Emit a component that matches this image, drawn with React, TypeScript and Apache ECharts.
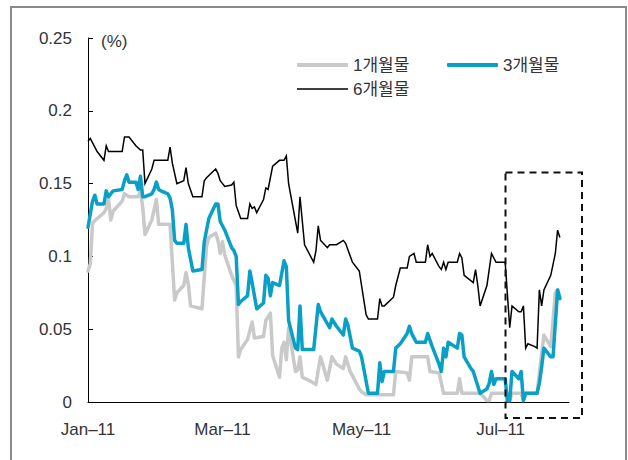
import React, { useEffect, useRef } from 'react';
import * as echarts from 'echarts';

// ---- data (dates in 2011, values in %) ----
const seriesNames = ['1개월물', '3개월물', '6개월물'];
const tickDates = ['1/3', '3/3', '5/3', '7/3'];
const tickLabels = ['Jan–11', 'Mar–11', 'May–11', 'Jul–11'];
const axisStartDate = '1/3';
const axisEndDate = '8/2';

const m1: [string, number][] = [
  ['1/3', 0.090], ['1/4', 0.095], ['1/5', 0.123], ['1/7', 0.126], ['1/10', 0.130], ['1/11', 0.133],
  ['1/12', 0.139], ['1/13', 0.125], ['1/14', 0.131], ['1/18', 0.138], ['1/19', 0.143], ['1/21', 0.141],
  ['1/25', 0.141], ['1/26', 0.145], ['1/27', 0.134], ['1/28', 0.115], ['1/31', 0.125], ['2/2', 0.139],
  ['2/3', 0.122], ['2/8', 0.122], ['2/10', 0.070], ['2/11', 0.075], ['2/14', 0.080], ['2/15', 0.089],
  ['2/16', 0.081], ['2/17', 0.066], ['2/22', 0.064], ['2/23', 0.086], ['2/24', 0.107], ['2/25', 0.113],
  ['2/28', 0.116], ['3/1', 0.111], ['3/2', 0.102], ['3/3', 0.110], ['3/4', 0.101], ['3/7', 0.087],
  ['3/9', 0.080], ['3/10', 0.031], ['3/11', 0.036], ['3/14', 0.043], ['3/16', 0.055], ['3/17', 0.044],
  ['3/21', 0.045], ['3/22', 0.056], ['3/24', 0.061], ['3/25', 0.032], ['3/28', 0.017], ['3/29', 0.037],
  ['3/30', 0.041], ['3/31', 0.029], ['4/1', 0.051], ['4/4', 0.021], ['4/5', 0.022], ['4/6', 0.031],
  ['4/7', 0.017], ['4/11', 0.014], ['4/13', 0.012], ['4/14', 0.022], ['4/15', 0.031], ['4/18', 0.015],
  ['4/20', 0.031], ['4/22', 0.026], ['4/25', 0.023], ['4/26', 0.031], ['4/28', 0.021], ['5/2', 0.009],
  ['5/3', 0.007], ['5/5', 0.005], ['5/17', 0.005], ['5/18', 0.021], ['5/23', 0.020], ['5/24', 0.015],
  ['5/25', 0.031], ['6/1', 0.031], ['6/2', 0.021], ['6/6', 0.020], ['6/8', 0.006], ['6/14', 0.006],
  ['6/15', 0.016], ['6/16', 0.006], ['6/24', 0.006], ['6/27', 0.001], ['6/28', 0.001], ['6/29', 0.006],
  ['7/5', 0.006], ['7/6', 0.001], ['7/7', 0.001], ['7/8', 0.006], ['7/12', 0.006], ['7/13', 0.001],
  ['7/14', 0.006], ['7/19', 0.006], ['7/20', 0.020], ['7/21', 0.033], ['7/22', 0.046], ['7/25', 0.038],
  ['7/27', 0.075], ['7/28', 0.077], ['7/29', 0.072],
];

const m3: [string, number][] = [
  ['1/3', 0.120], ['1/5', 0.138], ['1/6', 0.142], ['1/7', 0.136], ['1/10', 0.136], ['1/11', 0.145],
  ['1/12', 0.141], ['1/14', 0.145], ['1/18', 0.146], ['1/19', 0.152], ['1/20', 0.156], ['1/21', 0.151],
  ['1/24', 0.151], ['1/25', 0.146], ['1/26', 0.155], ['1/27', 0.141], ['1/28', 0.141], ['1/31', 0.143],
  ['2/1', 0.146], ['2/2', 0.151], ['2/3', 0.146], ['2/4', 0.145], ['2/7', 0.143], ['2/8', 0.140],
  ['2/9', 0.132], ['2/10', 0.111], ['2/11', 0.109], ['2/14', 0.109], ['2/15', 0.122], ['2/16', 0.106],
  ['2/18', 0.090], ['2/22', 0.091], ['2/23', 0.110], ['2/24', 0.118], ['2/25', 0.126], ['2/28', 0.136],
  ['3/1', 0.136], ['3/2', 0.124], ['3/4', 0.118], ['3/7', 0.106], ['3/8', 0.104], ['3/9', 0.100],
  ['3/10', 0.067], ['3/11', 0.069], ['3/14', 0.073], ['3/15', 0.090], ['3/16', 0.082], ['3/18', 0.064],
  ['3/21', 0.068], ['3/22', 0.087], ['3/23', 0.085], ['3/24', 0.073], ['3/25', 0.082], ['3/28', 0.080],
  ['3/30', 0.097], ['3/31', 0.093], ['4/1', 0.056], ['4/4', 0.037], ['4/5', 0.036], ['4/6', 0.066],
  ['4/7', 0.036], ['4/12', 0.036], ['4/14', 0.067], ['4/15', 0.062], ['4/19', 0.051], ['4/20', 0.057],
  ['4/22', 0.052], ['4/25', 0.046], ['4/26', 0.057], ['4/27', 0.053], ['4/29', 0.037], ['5/2', 0.035],
  ['5/3', 0.031], ['5/6', 0.006], ['5/10', 0.006], ['5/11', 0.027], ['5/12', 0.014], ['5/13', 0.021],
  ['5/17', 0.021], ['5/18', 0.037], ['5/20', 0.040], ['5/23', 0.047], ['5/24', 0.052], ['5/25', 0.047],
  ['5/27', 0.041], ['5/31', 0.041], ['6/1', 0.047], ['6/3', 0.038], ['6/6', 0.026], ['6/7', 0.021],
  ['6/8', 0.037], ['6/9', 0.031], ['6/10', 0.041], ['6/14', 0.037], ['6/15', 0.047], ['6/16', 0.046],
  ['6/17', 0.031], ['6/20', 0.023], ['6/21', 0.021], ['6/24', 0.006], ['6/27', 0.009], ['6/28', 0.013],
  ['6/29', 0.021], ['6/30', 0.012], ['7/1', 0.016], ['7/5', 0.016], ['7/6', 0.001], ['7/7', 0.001],
  ['7/8', 0.021], ['7/11', 0.016], ['7/12', 0.021], ['7/13', 0.001], ['7/14', 0.006], ['7/19', 0.006],
  ['7/20', 0.013], ['7/21', 0.024], ['7/22', 0.037], ['7/25', 0.031], ['7/26', 0.031], ['7/28', 0.077],
  ['7/29', 0.071],
];

const m6: [string, number][] = [
  ['1/3', 0.179], ['1/4', 0.181], ['1/7', 0.172], ['1/10', 0.166], ['1/11', 0.176], ['1/12', 0.172],
  ['1/18', 0.172], ['1/19', 0.182], ['1/21', 0.182], ['1/24', 0.176], ['1/26', 0.173], ['1/27', 0.173],
  ['1/28', 0.150], ['1/31', 0.160], ['2/1', 0.166], ['2/7', 0.166], ['2/8', 0.175], ['2/9', 0.164],
  ['2/11', 0.150], ['2/14', 0.152], ['2/15', 0.161], ['2/16', 0.150], ['2/18', 0.141], ['2/22', 0.141],
  ['2/23', 0.152], ['2/24', 0.154], ['2/28', 0.160], ['3/1', 0.157], ['3/2', 0.152], ['3/4', 0.148],
  ['3/7', 0.149], ['3/8', 0.151], ['3/9', 0.135], ['3/11', 0.126], ['3/14', 0.126], ['3/15', 0.136],
  ['3/16', 0.133], ['3/17', 0.134], ['3/18', 0.130], ['3/21', 0.139], ['3/22', 0.147], ['3/23', 0.146],
  ['3/25', 0.162], ['3/28', 0.166], ['3/30', 0.166], ['3/31', 0.169], ['4/1', 0.150], ['4/5', 0.116],
  ['4/6', 0.141], ['4/8', 0.108], ['4/12', 0.096], ['4/13', 0.104], ['4/14', 0.121], ['4/15', 0.111],
  ['4/18', 0.106], ['4/19', 0.108], ['4/22', 0.108], ['4/25', 0.111], ['4/26', 0.109], ['4/29', 0.096],
  ['5/2', 0.090], ['5/5', 0.060], ['5/6', 0.057], ['5/10', 0.057], ['5/11', 0.071], ['5/12', 0.066],
  ['5/13', 0.066], ['5/17', 0.072], ['5/18', 0.080], ['5/20', 0.092], ['5/23', 0.092], ['5/24', 0.100],
  ['5/26', 0.102], ['5/27', 0.096], ['5/31', 0.096], ['6/1', 0.108], ['6/2', 0.100], ['6/3', 0.102],
  ['6/6', 0.093], ['6/7', 0.091], ['6/8', 0.096], ['6/9', 0.091], ['6/10', 0.096], ['6/14', 0.096],
  ['6/15', 0.102], ['6/16', 0.099], ['6/17', 0.087], ['6/21', 0.082], ['6/22', 0.091], ['6/23', 0.080],
  ['6/24', 0.066], ['6/27', 0.080], ['6/29', 0.102], ['7/1', 0.096], ['7/5', 0.096], ['7/7', 0.051],
  ['7/8', 0.066], ['7/11', 0.062], ['7/12', 0.062], ['7/13', 0.066], ['7/14', 0.037], ['7/15', 0.040],
  ['7/18', 0.038], ['7/19', 0.037], ['7/20', 0.077], ['7/21', 0.066], ['7/22', 0.077], ['7/25', 0.087],
  ['7/27', 0.102], ['7/28', 0.118], ['7/29', 0.113],
];

const FONT = '"Liberation Sans", Arial, "Noto Sans CJK KR", sans-serif';
const COLORS = ['#c9c9c9', '#0aa0c6', '#000000'];

const dayOf = (md: string): number => {
  const [m, d] = md.split('/').map(Number);
  const [m0, d0] = axisStartDate.split('/').map(Number);
  return Math.round((Date.UTC(2011, m - 1, d) - Date.UTC(2011, m0 - 1, d0)) / 86400000);
};

const toPoints = (arr: [string, number][]) => arr.map(([d, v]) => [dayOf(d), v]);

export default function App() {
  const ref = useRef<HTMLDivElement>(null);

  useEffect(() => {
    if (!ref.current) return;
    const chart = echarts.init(ref.current, null, { renderer: 'svg' });
    const tickDays = tickDates.map(dayOf);

    const legendCommon = {
      itemWidth: 51,
      padding: 0,
      itemGap: 0,
      selectedMode: false,
      textStyle: { fontSize: 17, color: '#333', fontFamily: FONT },
    };

    chart.setOption({
      animation: false,
      backgroundColor: '#fff',
      grid: { left: 88, right: 59, top: 38, bottom: 58, containLabel: false },
      legend: [
        {
          ...legendCommon, data: [seriesNames[0]], left: 297, top: 56.5,
          icon: 'roundRect', itemHeight: 4, itemStyle: { color: COLORS[0] },
        },
        {
          ...legendCommon, data: [seriesNames[1]], left: 447, top: 56.5,
          icon: 'roundRect', itemHeight: 4, itemStyle: { color: COLORS[1] },
        },
        {
          ...legendCommon, data: [seriesNames[2]], left: 297, top: 80.5,
          icon: 'rect', itemHeight: 1.6, itemStyle: { color: COLORS[2] },
        },
      ],
      xAxis: {
        type: 'value',
        min: dayOf(axisStartDate),
        max: dayOf(axisEndDate),
        axisLine: { show: true, lineStyle: { color: '#000', width: 1 } },
        axisTick: { show: false },
        splitLine: { show: false },
        axisLabel: {
          customValues: tickDays,
          margin: 19,
          fontSize: 17,
          color: '#333',
          fontFamily: FONT,
          formatter: (v: number) => {
            const i = tickDays.indexOf(Math.round(v));
            return i >= 0 ? tickLabels[i] : '';
          },
        },
      },
      yAxis: {
        type: 'value',
        min: 0,
        max: 0.25,
        interval: 0.05,
        axisLine: { show: true, lineStyle: { color: '#000', width: 1 } },
        axisTick: { show: true, inside: true, length: 5, lineStyle: { color: '#000' } },
        splitLine: { show: false },
        axisLabel: {
          margin: 16,
          fontSize: 17,
          color: '#333',
          fontFamily: FONT,
          formatter: (v: number) => String(parseFloat(v.toFixed(2))),
        },
      },
      graphic: [
        {
          type: 'rect',
          silent: true,
          z: 0,
          shape: { x: 11, y: 7, width: 615, height: 480 },
          style: { fill: 'none', stroke: '#8a8a8a', lineWidth: 2 },
        },
        {
          type: 'text',
          silent: true,
          x: 101,
          y: 41,
          style: { text: '(%)', fontSize: 17, fontFamily: FONT, fill: '#333', verticalAlign: 'middle' },
        },
        {
          type: 'rect',
          silent: true,
          z: 100,
          shape: { x: 505.5, y: 172.5, width: 76.5, height: 245.5 },
          style: { fill: 'none', stroke: '#111', lineWidth: 2, lineDash: [7, 5] },
        },
      ],
      series: [
        {
          name: seriesNames[0],
          type: 'line',
          data: toPoints(m1),
          showSymbol: false,
          symbol: 'none',
          z: 2,
          lineStyle: { color: COLORS[0], width: 3.5, cap: 'round', join: 'round' },
          itemStyle: { color: COLORS[0] },
        },
        {
          name: seriesNames[1],
          type: 'line',
          data: toPoints(m3),
          showSymbol: false,
          symbol: 'none',
          z: 3,
          lineStyle: { color: COLORS[1], width: 3.5, cap: 'round', join: 'round' },
          itemStyle: { color: COLORS[1] },
        },
        {
          name: seriesNames[2],
          type: 'line',
          data: toPoints(m6),
          showSymbol: false,
          symbol: 'none',
          z: 4,
          lineStyle: { color: COLORS[2], width: 1.5, join: 'miter' },
          itemStyle: { color: COLORS[2] },
        },
      ],
    });

    return () => chart.dispose();
  }, []);

  return (
    <div
      ref={ref}
      style={{ position: 'fixed', left: 0, top: 0, width: 628, height: 460, background: '#fff' }}
    />
  );
}
